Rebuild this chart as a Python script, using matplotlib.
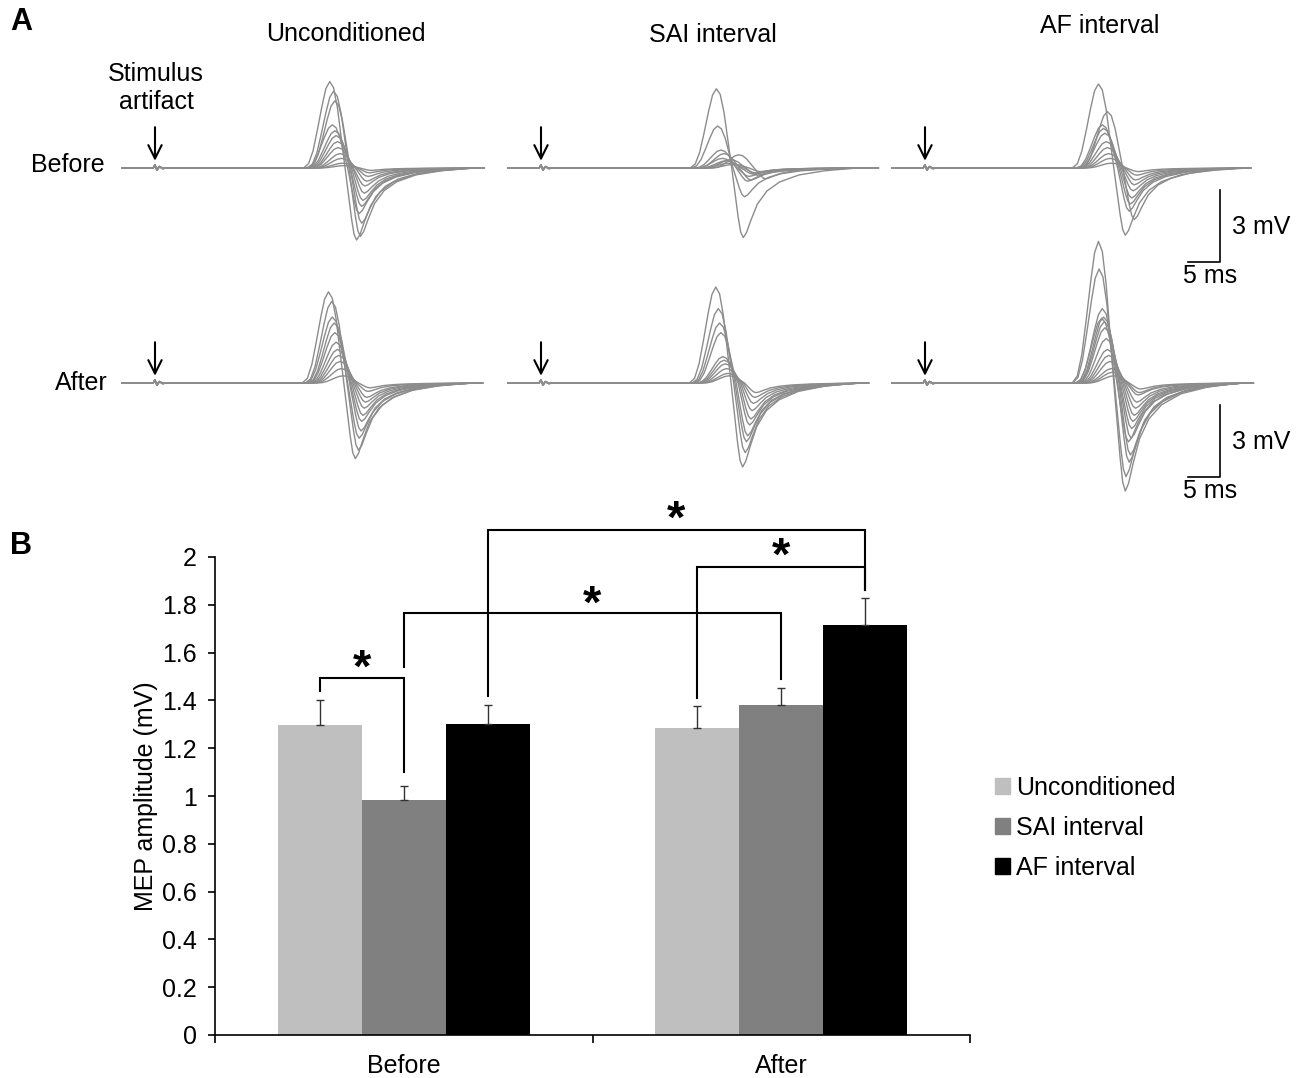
import numpy as np
import matplotlib
matplotlib.use('Agg')
import matplotlib.pyplot as plt
import matplotlib.transforms as mtrans
from matplotlib.patches import Patch

plt.rcParams['font.family'] = ['Liberation Sans', 'DejaVu Sans']

# ---------------- data: panel B (MEP amplitude, mV) ----------------
groups = ['Before', 'After']
conditions = ['Unconditioned', 'SAI interval', 'AF interval']
mean_unconditioned = [1.295, 1.285]
mean_sai = [0.985, 1.38]
mean_af = [1.30, 1.715]
sem_unconditioned = [0.105, 0.09]
sem_sai = [0.055, 0.07]
sem_af = [0.08, 0.115]
bar_colors = ['#bfbfbf', '#808080', '#000000']

# significance brackets: (group a, cond a, leg bottom a, group b, cond b, leg bottom b, top, star y)
brackets = [
    (0, 0, 1.44, 0, 1, 1.10, 1.494, 1.57),
    (0, 1, 1.54, 1, 1, 1.49, 1.765, 1.84),
    (0, 2, 1.42, 1, 2, 1.86, 2.113, 2.195),
    (1, 0, 1.41, 1, 2, 1.86, 1.96, 2.04),
]

# ---------------- data: panel A (MEP traces) ----------------
# MEP shape: ms after onset, normalised amplitude
tpl_t = [0.0, 0.8, 1.5, 2.2, 2.9, 3.5, 4.1, 4.7, 5.3, 5.9, 6.5, 7.0, 7.5, 7.9, 8.3,
         8.8, 9.5, 10.5, 12.0, 14.0, 17.0, 21.0, 26.0]
tpl_v = [0.0, 0.05, 0.2, 0.45, 0.72, 0.92, 1.0, 0.93, 0.7, 0.35, 0.0, -0.35, -0.7,
         -0.92, -1.0, -0.93, -0.75, -0.52, -0.33, -0.2, -0.1, -0.04, 0.0]
# stimulus artifact (ms, mV)
art_t = [-0.3, 0.0, 0.3, 0.7, 1.2, 2.0]
art_v = [0.0, 0.12, -0.08, 0.06, -0.02, 0.0]
sweep = (-5.2, 50.1)

# peaks / troughs in mV, onset latency in ms
pre_unc_peak = [3.6, 3.2, 2.8, 1.8, 1.55, 1.35, 1.1, 0.85, 0.6, 0.4, 0.2, 0.1]
pre_unc_trough = [3.0, 2.85, 2.3, 1.9, 1.6, 1.35, 1.05, 0.75, 0.55, 0.35, 0.2, 0.1]
pre_unc_onset = [23.2, 23.8, 24.0, 23.6, 24.0, 24.2, 24.4, 24.5, 24.8, 25.0, 25.2, 25.5]

pre_sai_peak = [3.3, 1.75, 0.75, 0.6, 0.55, 0.4, 0.35, 0.3, 0.2, 0.15]
pre_sai_trough = [2.9, 1.2, 0.55, 0.5, 0.45, 0.35, 0.3, 0.25, 0.2, 0.15]
pre_sai_onset = [23.3, 23.5, 24.0, 24.5, 26.8, 24.2, 25.5, 24.8, 25.2, 26.0]

pre_af_peak = [3.5, 2.35, 1.8, 1.65, 1.45, 1.1, 0.85, 0.6, 0.4, 0.2]
pre_af_trough = [2.8, 2.15, 1.8, 1.5, 1.25, 0.95, 0.7, 0.5, 0.3, 0.15]
pre_af_onset = [23.0, 24.4, 23.6, 23.8, 24.0, 24.2, 24.4, 24.6, 24.8, 25.0]

post_unc_peak = [3.8, 3.4, 2.75, 2.5, 2.1, 1.7, 1.4, 1.15, 0.9, 0.6, 0.3]
post_unc_trough = [3.15, 2.8, 2.3, 2.0, 1.6, 1.35, 1.05, 0.8, 0.6, 0.35, 0.2]
post_unc_onset = [23.0, 23.5, 23.6, 23.9, 24.0, 24.2, 24.4, 24.6, 24.8, 25.0, 25.3]

post_sai_peak = [4.0, 3.1, 2.5, 2.1, 1.1, 0.95, 0.8, 0.6, 0.4, 0.3]
post_sai_trough = [3.5, 2.9, 2.45, 2.2, 1.75, 1.5, 1.15, 0.85, 0.6, 0.4]
post_sai_onset = [23.2, 23.6, 23.8, 24.0, 24.3, 24.5, 24.7, 24.9, 25.1, 25.3]

post_af_peak = [5.9, 4.75, 3.1, 2.75, 2.7, 2.55, 2.3, 1.85, 1.4, 1.15, 0.9, 0.6, 0.45, 0.3]
post_af_trough = [4.5, 3.9, 3.3, 3.0, 2.45, 2.3, 1.9, 1.6, 1.35, 1.05, 0.8, 0.5, 0.4, 0.25]
post_af_onset = [23.0, 23.1, 23.6, 23.8, 23.5, 23.9, 24.0, 24.2, 24.4, 24.6, 24.8, 25.0, 25.2, 25.4]

panels = [
    [(pre_unc_peak, pre_unc_trough, pre_unc_onset),
     (pre_sai_peak, pre_sai_trough, pre_sai_onset),
     (pre_af_peak, pre_af_trough, pre_af_onset)],
    [(post_unc_peak, post_unc_trough, post_unc_onset),
     (post_sai_peak, post_sai_trough, post_sai_onset),
     (post_af_peak, post_af_trough, post_af_onset)],
]

# ---------------- figure ----------------
W, H = 1304, 1078
fig = plt.figure(figsize=(W / 100, H / 100), dpi=100)

def px_axes(left, top, width, height):
    return fig.add_axes([left / W, 1 - (top + height) / H, width / W, height / H])

PX_MS, PX_MV = 6.4, 24.0
stim_x = [155, 541, 925]
base_y = [168, 383]
tpl_t = np.array(tpl_t)
tpl_v = np.array(tpl_v)
trace_col = '#8c8c8c'

for r in range(2):
    for c in range(3):
        left = stim_x[c] + sweep[0] * PX_MS
        ax = px_axes(left, base_y[r] - 4 * PX_MV, (sweep[1] - sweep[0]) * PX_MS, 8 * PX_MV)
        ax.set_xlim(sweep)
        ax.set_ylim(-4, 4)
        ax.axis('off')
        peaks, troughs, onsets = panels[r][c]
        for pk, tr, on in zip(peaks, troughs, onsets):
            mep = np.where(tpl_v > 0, tpl_v * pk, tpl_v * tr)
            t = np.concatenate([[sweep[0]], art_t, on + tpl_t, [sweep[1]]])
            v = np.concatenate([[0.0], art_v, mep, [0.0]])
            ax.plot(t, v, color=trace_col, lw=1.0, clip_on=False)
        ax.annotate('', xy=(0, 0.3), xytext=(0, 1.7),
                    arrowprops=dict(arrowstyle='->', lw=1.5, color='black',
                                    mutation_scale=24, shrinkA=0, shrinkB=0),
                    annotation_clip=False)
        if c == 2:
            # scale bar: 3 mV / 5 ms
            ax.plot([46.1, 46.1, 41.1], [-0.9, -3.9, -3.9], color='black', lw=1.2,
                    clip_on=False)
            ax.text(48.0, -2.45, '3 mV', fontsize=18, ha='left', va='center')
            ax.text(44.6, -4.5, '5 ms', fontsize=18, ha='center', va='center')

fig.text(10 / W, 1 - 7 / H, 'A', fontsize=22, fontweight='bold', ha='left', va='top')
fig.text(346 / W, 1 - 34 / H, 'Unconditioned', fontsize=18, ha='center', va='center')
fig.text(713 / W, 1 - 35 / H, 'SAI interval', fontsize=18, ha='center', va='center')
fig.text(1100 / W, 1 - 26 / H, 'AF interval', fontsize=18, ha='center', va='center')
fig.text(156 / W, 1 - 88 / H, 'Stimulus\nartifact', fontsize=18, ha='center',
         va='center', linespacing=1.25)
fig.text(105 / W, 1 - 165 / H, 'Before', fontsize=18, ha='right', va='center')
fig.text(108 / W, 1 - 383 / H, 'After', fontsize=18, ha='right', va='center')

# ---------------- panel B ----------------
fig.text(10 / W, 1 - 531 / H, 'B', fontsize=22, fontweight='bold', ha='left', va='top')
axb = px_axes(215, 557, 755, 478)
bar_w = 2 / 9
means = [mean_unconditioned, mean_sai, mean_af]
sems = [sem_unconditioned, sem_sai, sem_af]
xg = np.arange(len(groups)) + 0.5
for i in range(3):
    xs = xg + (i - 1) * bar_w
    axb.bar(xs, means[i], width=bar_w, color=bar_colors[i], label=conditions[i])
    axb.errorbar(xs, means[i], yerr=[np.zeros(2), sems[i]], fmt='none',
                 ecolor='#333333', elinewidth=1.0, capsize=3, capthick=1.0)

off = mtrans.offset_copy(axb.transData, fig=fig, x=0, y=-16, units='points')
for ga, ca, ya, gb, cb, yb, top, sy in brackets:
    xa = ga + 0.5 + (ca - 1) * bar_w
    xb = gb + 0.5 + (cb - 1) * bar_w
    axb.plot([xa, xa, xb, xb], [ya, top, top, yb], color='black', lw=1.5,
             clip_on=False, solid_joinstyle='miter')
    axb.text((xa + xb) / 2, sy, '*', fontsize=34, fontweight='bold', ha='center',
             va='baseline', transform=off)

axb.set_xlim(0, 2)
axb.set_ylim(0, 2)
axb.set_yticks(np.arange(0, 2.01, 0.2))
axb.set_yticklabels(['0', '0.2', '0.4', '0.6', '0.8', '1', '1.2', '1.4', '1.6', '1.8', '2'])
axb.set_xticks([0, 1, 2])
axb.set_xticklabels([])
axb.set_xticks(xg, minor=True)
axb.set_xticklabels(groups, minor=True)
axb.tick_params(axis='x', which='minor', length=0, pad=14, labelsize=18)
axb.tick_params(axis='x', which='major', length=6, width=1.2, direction='out')
axb.tick_params(axis='y', length=5, width=1.2, direction='out', pad=8, labelsize=18)
for s in ['top', 'right']:
    axb.spines[s].set_visible(False)
for s in ['left', 'bottom']:
    axb.spines[s].set_linewidth(1.2)
axb.set_ylabel('MEP amplitude (mV)', fontsize=18)
axb.yaxis.set_label_coords(-0.075, 0.5)

handles = [Patch(color=bar_colors[i]) for i in range(3)]
axb.legend(handles, conditions, loc='upper left',
           bbox_to_anchor=(995 / W, 1 - 776 / H), bbox_transform=fig.transFigure,
           frameon=False, fontsize=18, handlelength=0.6, handleheight=0.6,
           handletextpad=0.25, labelspacing=0.64, borderpad=0, borderaxespad=0)

fig.savefig('out.png', dpi=100)
